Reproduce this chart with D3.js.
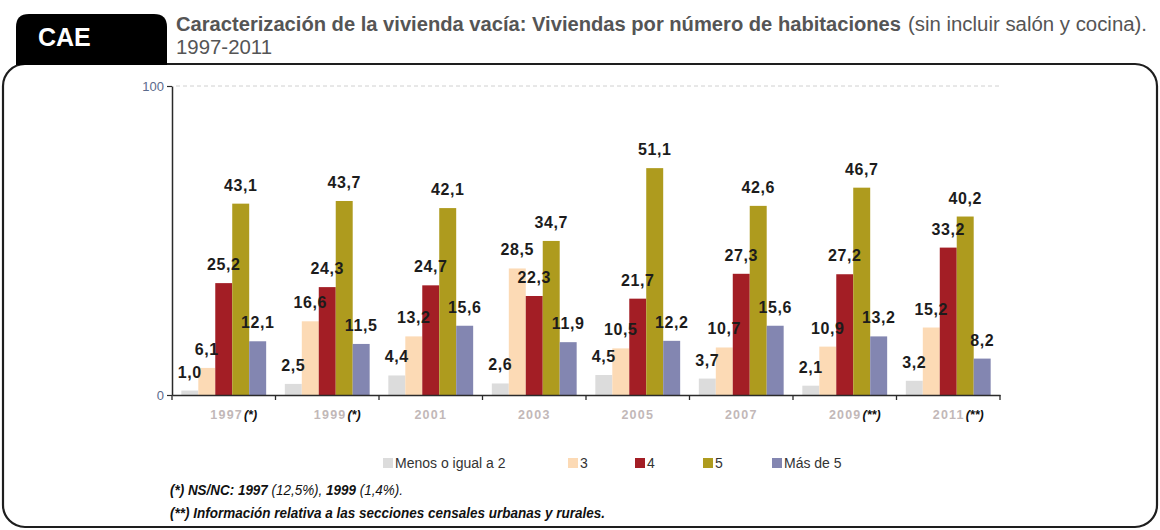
<!DOCTYPE html>
<html><head><meta charset="utf-8">
<script src="https://cdn.jsdelivr.net/npm/d3@7/dist/d3.min.js"></script>
<style>
html,body{margin:0;padding:0;background:#fff;}
svg{display:block;font-family:"Liberation Sans",Arial,sans-serif;}
</style></head>
<body>
<svg id="chart" width="1160" height="530"></svg>
<script>
// ---- data ----
const years = ["1997","1999","2001","2003","2005","2007","2009","2011"];
const yearNotes = ["(*)","(*)","","","","","(**)","(**)"];
const seriesNames = ["Menos o igual a 2","3","4","5","Más de 5"];
const serMenos2 = [1.0, 2.5, 4.4, 2.6, 4.5, 3.7, 2.1, 3.2];
const ser3      = [6.1, 16.6, 13.2, 28.5, 10.5, 10.7, 10.9, 15.2];
const ser4      = [25.2, 24.3, 24.7, 22.3, 21.7, 27.3, 27.2, 33.2];
const ser5      = [43.1, 43.7, 42.1, 34.7, 51.1, 42.6, 46.7, 40.2];
const serMas5   = [12.1, 11.5, 15.6, 11.9, 12.2, 15.6, 13.2, 8.2];
const yTickLabels = ["0","100"];
const colors = ["#dcdcdc","#fcdab5","#a31e25","#ae9b1e","#8386b1"];

const allSeries = [serMenos2, ser3, ser4, ser5, serMas5];

const svg = d3.select("#chart");

// ---- frame ----
svg.append("rect").attr("x",3).attr("y",64).attr("width",1154).attr("height",463)
  .attr("rx",22).attr("ry",22).attr("fill","#fff").attr("stroke","#1e1e1e").attr("stroke-width",2.2);
// tab
const tx0=16, tx1=167, ty0=14, ty1=65, tr=13;
svg.append("path").attr("fill","#000")
  .attr("d",`M${tx0},${ty1} L${tx0},${ty0+tr} Q${tx0},${ty0} ${tx0+tr},${ty0} L${tx1-tr},${ty0} Q${tx1},${ty0} ${tx1},${ty0+tr} L${tx1},${ty1} Z`);
svg.append("text").attr("x",38).attr("y",46).attr("fill","#fff")
  .attr("font-size",25).attr("font-weight","bold").text("CAE");

// titles
const titleFont = '"Liberation Sans Narrow","Arial Narrow","Liberation Sans",Arial,sans-serif';
svg.append("text").attr("x",176).attr("y",31).attr("fill","#555")
  .attr("font-family",titleFont).attr("font-size",20).attr("font-weight","bold")
  .attr("textLength",725).attr("lengthAdjust","spacingAndGlyphs")
  .text("Caracterización de la vivienda vacía: Viviendas por número de habitaciones");
svg.append("text").attr("x",908).attr("y",31).attr("fill","#555")
  .attr("font-family",titleFont).attr("font-size",20)
  .attr("textLength",239).attr("lengthAdjust","spacingAndGlyphs")
  .text("(sin incluir salón y cocina).");
svg.append("text").attr("x",176).attr("y",54).attr("fill","#555")
  .attr("font-family",titleFont).attr("font-size",20)
  .attr("textLength",96).attr("lengthAdjust","spacingAndGlyphs")
  .text("1997-2011");

// ---- scales ----
const plotLeft = 172, plotRight = 1000, plotTop = 86, plotBottom = 395;
const yTop = 69.6;
const y = d3.scaleLinear().domain([0, yTop]).range([plotBottom, plotTop]);
const x0 = d3.scaleBand().domain(years).range([plotLeft, plotRight]).paddingInner(0).paddingOuter(0);
const x1 = d3.scaleBand().domain(seriesNames).range([0, x0.bandwidth()]).paddingInner(0).paddingOuter(0.55);

// gridline at top
svg.append("line").attr("x1",plotLeft+4).attr("x2",plotRight).attr("y1",y(yTop)).attr("y2",y(yTop))
  .attr("stroke","#d0d0d0").attr("stroke-dasharray","4,3").attr("stroke-width",1);

// bars
const groups = svg.append("g").selectAll("g").data(years).join("g")
  .attr("transform", d => `translate(${x0(d)},0)`);
groups.each(function(yr, i){
  const g = d3.select(this);
  const recs = seriesNames.map((s, k) => ({s, k, v: allSeries[k][i]}));
  g.selectAll("rect").data(recs).join("rect")
    .attr("x", d => x1(d.s)).attr("width", x1.bandwidth())
    .attr("y", d => y(d.v)).attr("height", d => y(0) - y(d.v))
    .attr("fill", d => colors[d.k]);
});
// labels
groups.each(function(yr, i){
  const g = d3.select(this);
  const recs = seriesNames.map((s, k) => ({s, k, v: allSeries[k][i]}));
  g.selectAll("text.val").data(recs).join("text").attr("class","val")
    .attr("x", d => x1(d.s) + x1.bandwidth()/2)
    .attr("y", d => y(d.v) - 13)
    .attr("text-anchor","middle").attr("font-size",16).attr("font-weight","bold")
    .attr("letter-spacing","0.6").attr("fill","#1c1c1c")
    .text(d => d3.format(".1f")(d.v).replace(".", ","));
});

// y axis
const yAxis = svg.append("g").attr("transform",`translate(${plotLeft},0)`)
  .call(d3.axisLeft(y).tickValues([0, yTop]).tickFormat((d,i)=>yTickLabels[i]).tickSize(5).tickSizeOuter(0).tickPadding(3));
yAxis.select(".domain").attr("stroke","#2a2a2a").attr("stroke-width",1.5);
yAxis.selectAll(".tick line").attr("stroke","#2a2a2a").attr("stroke-width",1.2);
yAxis.selectAll(".tick text").attr("fill","#5b6a8c").attr("font-size",13)
  .attr("font-family",'"Liberation Sans",Arial,sans-serif');

// x axis
const xAxis = svg.append("g").attr("transform",`translate(0,${plotBottom})`)
  .call(d3.axisBottom(x0).tickSize(0).tickSizeOuter(0).tickFormat(""));
xAxis.select(".domain").attr("stroke","#2a2a2a").attr("stroke-width",1.5);
const bounds = years.map(d => x0(d)).concat([x0(years[years.length-1]) + x0.bandwidth()]);
xAxis.selectAll("line.bnd").data(bounds).join("line").attr("class","bnd")
  .attr("x1", d=>d).attr("x2", d=>d).attr("y1",0).attr("y2",5)
  .attr("stroke","#2a2a2a").attr("stroke-width",1.3);
const xl = xAxis.selectAll("text.yl").data(years).join("text").attr("class","yl")
  .attr("x", d => x0(d) + x0.bandwidth()/2 + (yearNotes[years.indexOf(d)] ? 10 : 0))
  .attr("y", 24).attr("text-anchor","middle").attr("font-size",12.5);
xl.append("tspan").attr("font-weight","bold").attr("fill","#c2b8b8").attr("letter-spacing","1.2")
  .text(d => d);
xl.append("tspan").attr("font-weight","bold").attr("font-style","italic").attr("fill","#111")
  .attr("dx",1).text((d,i) => yearNotes[i]);

// legend
const legendX = [383, 568, 635, 703, 772];
const lg = svg.append("g").selectAll("g").data(seriesNames).join("g")
  .attr("transform", (d,i) => `translate(${legendX[i]},463)`);
lg.append("rect").attr("x",0).attr("y",-5).attr("width",10).attr("height",10)
  .attr("fill",(d,i)=>colors[i]);
lg.append("text").attr("x",12).attr("y",5).attr("font-size",14).attr("fill","#333").text(d=>d);

// footnotes
const f1 = svg.append("text").attr("x",170).attr("y",495).attr("font-size",14)
  .attr("font-style","italic").attr("fill","#111")
  .attr("textLength",233).attr("lengthAdjust","spacingAndGlyphs");
f1.append("tspan").attr("font-weight","bold").text("(*) NS/NC: 1997");
f1.append("tspan").text(" (12,5%), ");
f1.append("tspan").attr("font-weight","bold").text("1999");
f1.append("tspan").text(" (1,4%).");
svg.append("text").attr("x",170).attr("y",518).attr("font-size",14)
  .attr("font-style","italic").attr("font-weight","bold").attr("fill","#111")
  .attr("textLength",435).attr("lengthAdjust","spacingAndGlyphs")
  .text("(**) Información relativa a las secciones censales urbanas y rurales.");
</script>
</body></html>
